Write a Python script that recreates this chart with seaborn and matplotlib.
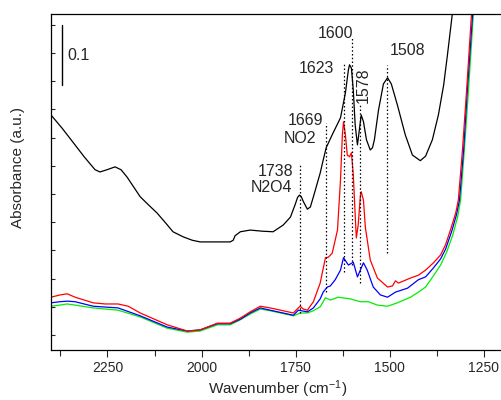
import matplotlib
matplotlib.use("Agg")
import matplotlib.pyplot as plt
import seaborn as sns
import pandas as pd
from matplotlib.ticker import MultipleLocator, FixedLocator

# ---- data (wavenumber cm-1, absorbance a.u.) ----
black_w = [2400, 2371, 2342, 2312, 2283, 2270, 2251, 2230, 2214, 2198, 2180, 2163, 2140, 2118,
           2096, 2076, 2049, 2025, 2004, 1969, 1924, 1916, 1911, 1897, 1871, 1839, 1810, 1783,
           1764, 1751, 1745, 1740, 1735, 1730, 1719, 1711, 1703, 1685, 1677, 1669, 1653, 1631,
           1618, 1610, 1607, 1602, 1597, 1592, 1586, 1581, 1576, 1570, 1562, 1552, 1546, 1541,
           1530, 1517, 1506, 1496, 1480, 1459, 1440, 1419, 1405, 1387, 1371, 1357, 1347, 1334,
           1323]
black_a = [0.390, 0.367, 0.342, 0.316, 0.293, 0.289, 0.293, 0.298, 0.293, 0.280, 0.262, 0.245,
           0.230, 0.216, 0.199, 0.183, 0.174, 0.168, 0.165, 0.165, 0.165, 0.168, 0.176, 0.183,
           0.186, 0.184, 0.183, 0.195, 0.209, 0.232, 0.244, 0.248, 0.245, 0.237, 0.223, 0.227,
           0.245, 0.287, 0.310, 0.332, 0.355, 0.385, 0.429, 0.470, 0.479, 0.473, 0.434, 0.372,
           0.337, 0.363, 0.390, 0.378, 0.346, 0.328, 0.332, 0.346, 0.399, 0.445, 0.456, 0.445,
           0.408, 0.355, 0.319, 0.309, 0.317, 0.346, 0.390, 0.443, 0.496, 0.569, 0.629]

red_w = [2400, 2376, 2357, 2336, 2288, 2256, 2222, 2195, 2163, 2091, 2038, 2004, 1977, 1958,
         1924, 1897, 1871, 1844, 1818, 1756, 1746, 1738, 1730, 1719, 1703, 1685, 1671, 1663,
         1653, 1639, 1631, 1626, 1623, 1618, 1613, 1607, 1602, 1597, 1592, 1589, 1584, 1578,
         1576, 1570, 1565, 1552, 1533, 1506, 1493, 1485, 1477, 1445, 1424, 1405, 1384, 1365,
         1352, 1339, 1325, 1318, 1307, 1296, 1283, 1275]
red_a = [0.067, 0.071, 0.073, 0.067, 0.057, 0.055, 0.055, 0.051, 0.039, 0.018, 0.007, 0.009,
         0.016, 0.021, 0.021, 0.030, 0.041, 0.051, 0.048, 0.039, 0.046, 0.051, 0.046, 0.044,
         0.059, 0.092, 0.137, 0.138, 0.145, 0.186, 0.275, 0.355, 0.378, 0.355, 0.319, 0.316,
         0.323, 0.284, 0.213, 0.172, 0.195, 0.248, 0.254, 0.239, 0.191, 0.133, 0.101, 0.085,
         0.087, 0.096, 0.092, 0.101, 0.106, 0.115, 0.128, 0.142, 0.160, 0.186, 0.216, 0.239,
         0.328, 0.434, 0.569, 0.647]

blue_w = [2400, 2376, 2357, 2336, 2288, 2222, 2163, 2091, 2038, 2004, 1958, 1924, 1897, 1871,
          1844, 1818, 1756, 1743, 1719, 1703, 1685, 1677, 1666, 1658, 1645, 1631, 1623, 1610,
          1597, 1586, 1570, 1560, 1544, 1525, 1506, 1485, 1453, 1424, 1405, 1384, 1365, 1352,
          1336, 1323, 1315, 1304, 1294, 1280, 1272]
blue_a = [0.057, 0.059, 0.060, 0.059, 0.051, 0.048, 0.034, 0.014, 0.007, 0.009, 0.020, 0.020,
          0.028, 0.039, 0.048, 0.044, 0.035, 0.044, 0.041, 0.048, 0.064, 0.076, 0.085, 0.087,
          0.098, 0.115, 0.137, 0.124, 0.129, 0.103, 0.128, 0.115, 0.085, 0.071, 0.067, 0.076,
          0.083, 0.098, 0.103, 0.119, 0.135, 0.152, 0.183, 0.213, 0.239, 0.328, 0.434, 0.569,
          0.647]

green_w = [2400, 2376, 2357, 2336, 2288, 2222, 2163, 2091, 2038, 2004, 1958, 1924, 1897, 1871,
           1844, 1818, 1756, 1738, 1719, 1703, 1685, 1671, 1658, 1637, 1605, 1578, 1557, 1533,
           1506, 1480, 1445, 1424, 1405, 1384, 1365, 1349, 1333, 1320, 1312, 1302, 1291, 1278,
           1270]
green_a = [0.051, 0.053, 0.055, 0.053, 0.048, 0.044, 0.032, 0.012, 0.005, 0.007, 0.018, 0.018,
           0.027, 0.037, 0.046, 0.043, 0.034, 0.039, 0.039, 0.043, 0.050, 0.066, 0.062, 0.067,
           0.064, 0.059, 0.059, 0.053, 0.051, 0.057, 0.067, 0.076, 0.085, 0.105, 0.124, 0.147,
           0.177, 0.209, 0.239, 0.328, 0.434, 0.569, 0.647]

# peak markers: position, top, bottom of dotted line
mark_w = [1738, 1669, 1623, 1600, 1578, 1508]
mark_top = [0.301, 0.376, 0.482, 0.527, 0.411, 0.479]
mark_bot = [0.039, 0.076, 0.112, 0.124, 0.092, 0.145]

sns.set_style("ticks")
plt.rcParams['font.family'] = ['Liberation Sans', 'DejaVu Sans']
plt.rcParams['mathtext.fontset'] = 'custom'
plt.rcParams['mathtext.rm'] = 'Liberation Sans'
plt.rcParams['mathtext.it'] = 'Liberation Sans'

fig = plt.figure(figsize=(5.01, 4.00), dpi=100)
ax = fig.add_axes([51 / 501, 50 / 400, 1 - 51 / 501 + 0.002, 336 / 400])

for w, a, c in [(green_w, green_a, '#00ee00'), (blue_w, blue_a, '#0000ff'),
                (red_w, red_a, '#ff0000'), (black_w, black_a, 'black')]:
    df = pd.DataFrame({'w': w, 'a': a})
    sns.lineplot(data=df, x='w', y='a', color=c, lw=0.9, ax=ax, sort=False)

for w, t, b in zip(mark_w, mark_top, mark_bot):
    ax.plot([w, w], [b, t], color='black', lw=0.9, ls=(0, (1.2, 1.8)))

fs = 11.5
ax.text(1804, 0.289, "1738", ha='center', va='center', fontsize=fs)
ax.text(1813, 0.261, "N2O4", ha='center', va='center', fontsize=fs)
ax.text(1724, 0.381, "1669", ha='center', va='center', fontsize=fs)
ax.text(1738, 0.349, "NO2", ha='center', va='center', fontsize=fs)
ax.text(1695, 0.473, "1623", ha='center', va='center', fontsize=fs)
ax.text(1645, 0.535, "1600", ha='center', va='center', fontsize=fs)
ax.text(1570, 0.443, "1578", ha='center', va='center', fontsize=fs, rotation=90)
ax.text(1453, 0.505, "1508", ha='center', va='center', fontsize=fs)

# scale bar
ax.plot([2371, 2371], [0.443, 0.550], color='black', lw=1.0)
ax.text(2356, 0.496, "0.1", ha='left', va='center', fontsize=fs)

ax.set_xlim(2400, 1202)
ax.set_ylim(-0.0266, 0.569)
ax.xaxis.set_major_locator(FixedLocator([2250, 2000, 1750, 1500, 1250]))
ax.xaxis.set_minor_locator(FixedLocator([2375, 2125, 1875, 1625, 1375]))
ax.yaxis.set_major_locator(MultipleLocator(0.05))
ax.set_yticklabels([])
ax.tick_params(axis='x', which='major', direction='out', length=5, width=0.8,
               labelsize=10, pad=3)
ax.tick_params(axis='x', which='minor', direction='out', length=4, width=0.8)
ax.tick_params(axis='y', which='major', direction='in', length=3, width=0.8, left=True)

for s in ['left', 'top', 'bottom']:
    ax.spines[s].set_visible(True)
    ax.spines[s].set_linewidth(0.9)
    ax.spines[s].set_color('black')
ax.spines['right'].set_visible(False)

ax.set_xlabel("Wavenumber (cm$^{-1}$)", fontsize=11)
ax.set_ylabel("Absorbance (a.u.)", fontsize=11)
ax.xaxis.set_label_coords(0.502, -0.085)
ax.yaxis.set_label_coords(-0.058, 0.542)

fig.savefig("out.png", dpi=100)
